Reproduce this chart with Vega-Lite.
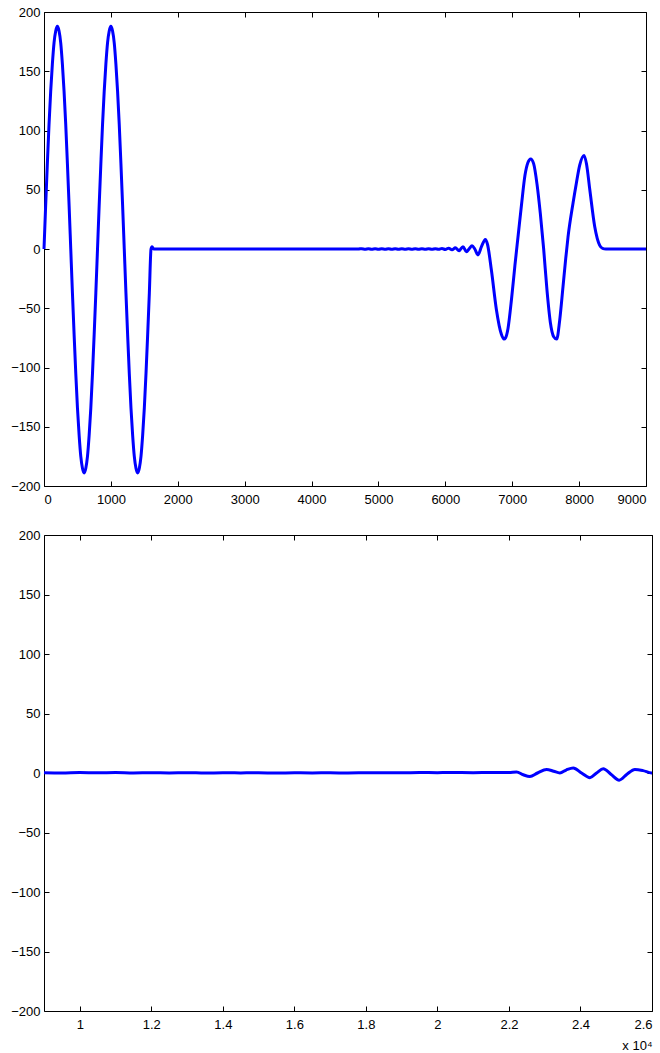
{
  "$schema": "https://vega.github.io/schema/vega-lite/v6.json",
  "background": "white",
  "padding": {"left": 10, "top": 5, "right": 0, "bottom": 0},
  "bounds": "flush",
  "spacing": 49,
  "config": {
    "view": {"stroke": "#000", "strokeWidth": 1},
    "axis": {
      "grid": false, "domain": false, "tickColor": "#000", "tickSize": -5, "tickWidth": 1,
      "labelFont": "Liberation Sans", "labelFontSize": 13, "labelColor": "#000",
      "titleFont": "Liberation Sans", "titleFontSize": 13, "titleFontWeight": "normal", "titleColor": "#000"
    },
    "axisX": {"labelPadding": 12},
    "axisY": {"labelPadding": 9}
  },
  "datasets": {
    "top": [
      {"t": 0, "v": 0}, {"t": 25, "v": 37}, {"t": 50, "v": 72}, {"t": 75, "v": 105}, {"t": 100, "v": 133}, {"t": 125, "v": 156}, {"t": 150, "v": 174}, {"t": 175, "v": 184}, {"t": 200, "v": 188},
      {"t": 225, "v": 184}, {"t": 250, "v": 174}, {"t": 275, "v": 156}, {"t": 300, "v": 133}, {"t": 325, "v": 105}, {"t": 350, "v": 72}, {"t": 375, "v": 37}, {"t": 400, "v": 0},
      {"t": 425, "v": -37}, {"t": 450, "v": -72}, {"t": 475, "v": -105}, {"t": 500, "v": -134}, {"t": 525, "v": -157}, {"t": 550, "v": -175}, {"t": 575, "v": -185}, {"t": 600, "v": -189},
      {"t": 625, "v": -185}, {"t": 650, "v": -175}, {"t": 675, "v": -157}, {"t": 700, "v": -134}, {"t": 725, "v": -105}, {"t": 750, "v": -72}, {"t": 775, "v": -37}, {"t": 800, "v": 0},
      {"t": 825, "v": 37}, {"t": 850, "v": 72}, {"t": 875, "v": 105}, {"t": 900, "v": 133}, {"t": 925, "v": 156}, {"t": 950, "v": 174}, {"t": 975, "v": 184}, {"t": 1000, "v": 188},
      {"t": 1025, "v": 184}, {"t": 1050, "v": 174}, {"t": 1075, "v": 156}, {"t": 1100, "v": 133}, {"t": 1125, "v": 105}, {"t": 1150, "v": 72}, {"t": 1175, "v": 37}, {"t": 1200, "v": 0},
      {"t": 1225, "v": -37}, {"t": 1250, "v": -72}, {"t": 1275, "v": -105}, {"t": 1300, "v": -134}, {"t": 1325, "v": -157}, {"t": 1350, "v": -175}, {"t": 1375, "v": -185}, {"t": 1400, "v": -189},
      {"t": 1425, "v": -185}, {"t": 1450, "v": -175}, {"t": 1475, "v": -157}, {"t": 1500, "v": -134}, {"t": 1525, "v": -105}, {"t": 1550, "v": -72}, {"t": 1575, "v": -37}, {"t": 1600, "v": 0},
      {"t": 1615, "v": 2}, {"t": 1640, "v": 0}, {"t": 3000, "v": 0}, {"t": 4700, "v": 0},
      {"t": 4750, "v": 0.3}, {"t": 4800, "v": -0.2}, {"t": 4850, "v": 0.3}, {"t": 4900, "v": -0.3}, {"t": 4950, "v": 0.2}, {"t": 5000, "v": -0.3},
      {"t": 5050, "v": 0.3}, {"t": 5100, "v": -0.2}, {"t": 5150, "v": 0.3}, {"t": 5200, "v": -0.3}, {"t": 5250, "v": 0.3}, {"t": 5300, "v": -0.3},
      {"t": 5350, "v": 0.2}, {"t": 5400, "v": -0.2}, {"t": 5450, "v": 0.2}, {"t": 5500, "v": -0.2}, {"t": 5550, "v": 0.2}, {"t": 5600, "v": -0.2},
      {"t": 5650, "v": 0.2}, {"t": 5700, "v": -0.2}, {"t": 5750, "v": 0.3}, {"t": 5800, "v": -0.3}, {"t": 5850, "v": 0.3}, {"t": 5900, "v": -0.3},
      {"t": 5950, "v": 0.4}, {"t": 6000, "v": -0.4}, {"t": 6050, "v": 0.7}, {"t": 6100, "v": -0.7}, {"t": 6150, "v": 1.0}, {"t": 6205, "v": -1.4},
      {"t": 6264, "v": 2}, {"t": 6314, "v": -2.3}, {"t": 6360, "v": 0.5}, {"t": 6399, "v": 2.8}, {"t": 6440, "v": 0}, {"t": 6488, "v": -5},
      {"t": 6540, "v": 2}, {"t": 6598, "v": 8}, {"t": 6630, "v": 4}, {"t": 6689, "v": -18}, {"t": 6763, "v": -51}, {"t": 6838, "v": -72},
      {"t": 6877, "v": -76}, {"t": 6900, "v": -75}, {"t": 6937, "v": -67}, {"t": 6990, "v": -42}, {"t": 7040, "v": -14}, {"t": 7090, "v": 12},
      {"t": 7140, "v": 38}, {"t": 7190, "v": 62}, {"t": 7235, "v": 73}, {"t": 7276, "v": 76}, {"t": 7320, "v": 72}, {"t": 7370, "v": 55},
      {"t": 7420, "v": 30}, {"t": 7470, "v": 0}, {"t": 7520, "v": -35}, {"t": 7570, "v": -62}, {"t": 7620, "v": -74}, {"t": 7665, "v": -76},
      {"t": 7710, "v": -60}, {"t": 7759, "v": -32}, {"t": 7800, "v": -8}, {"t": 7834, "v": 10}, {"t": 7910, "v": 39}, {"t": 7960, "v": 56},
      {"t": 8010, "v": 71}, {"t": 8073, "v": 79}, {"t": 8110, "v": 72}, {"t": 8160, "v": 50}, {"t": 8233, "v": 19}, {"t": 8308, "v": 3},
      {"t": 8350, "v": 0.5}, {"t": 8400, "v": 0}, {"t": 9000, "v": 0}
    ],
    "bottom": [
      {"t": 9000, "v": 0.3}, {"t": 9500, "v": 0.1}, {"t": 10000, "v": 0.4}, {"t": 10500, "v": 0.2}, {"t": 11000, "v": 0.4}, {"t": 11500, "v": 0.1},
      {"t": 12000, "v": 0.3}, {"t": 12500, "v": 0.1}, {"t": 13000, "v": 0.3}, {"t": 13500, "v": 0.0}, {"t": 14000, "v": 0.2}, {"t": 14500, "v": 0.1},
      {"t": 15000, "v": 0.2}, {"t": 15500, "v": 0.0}, {"t": 16000, "v": 0.2}, {"t": 16500, "v": 0.1}, {"t": 17000, "v": 0.2}, {"t": 17500, "v": 0.0},
      {"t": 18000, "v": 0.2}, {"t": 18500, "v": 0.3}, {"t": 19000, "v": 0.2}, {"t": 19500, "v": 0.4}, {"t": 20000, "v": 0.3}, {"t": 20500, "v": 0.4},
      {"t": 21000, "v": 0.3}, {"t": 21500, "v": 0.4}, {"t": 22000, "v": 0.4}, {"t": 22213, "v": 0.9}, {"t": 22400, "v": -1.5}, {"t": 22585, "v": -3},
      {"t": 22800, "v": 0}, {"t": 23052, "v": 3}, {"t": 23250, "v": 1.5}, {"t": 23425, "v": 0}, {"t": 23600, "v": 2.5}, {"t": 23798, "v": 4.3},
      {"t": 24030, "v": 0}, {"t": 24264, "v": -3.9}, {"t": 24450, "v": 0}, {"t": 24637, "v": 3.6}, {"t": 24850, "v": -1}, {"t": 25083, "v": -6},
      {"t": 25300, "v": -1}, {"t": 25522, "v": 3}, {"t": 25750, "v": 2}, {"t": 25989, "v": 0}, {"t": 26000, "v": 0}
    ]
  },
  "vconcat": [
    {
      "width": 602, "height": 474,
      "data": {"name": "top"},
      "layer": [
        {
          "mark": {"type": "line", "color": "#0000ff", "strokeWidth": 3, "interpolate": "monotone"},
          "encoding": {
            "x": {"field": "t", "type": "quantitative", "scale": {"domain": [0, 9000], "nice": false, "zero": false},
                  "axis": {"orient": "bottom", "title": null, "values": [0, 1000, 2000, 3000, 4000, 5000, 6000, 7000, 8000, 9000], "format": "d"}},
            "y": {"field": "v", "type": "quantitative", "scale": {"domain": [-200, 200], "nice": false},
                  "axis": {"orient": "left", "title": null, "values": [-200, -150, -100, -50, 0, 50, 100, 150, 200]}}
          }
        },
        {
          "mark": {"type": "line", "strokeOpacity": 0},
          "encoding": {
            "x": {"field": "t", "type": "quantitative", "scale": {"domain": [0, 9000], "nice": false, "zero": false},
                  "axis": {"orient": "top", "title": null, "labels": false, "values": [0, 1000, 2000, 3000, 4000, 5000, 6000, 7000, 8000, 9000]}},
            "y": {"field": "v", "type": "quantitative", "scale": {"domain": [-200, 200], "nice": false},
                  "axis": {"orient": "right", "title": null, "labels": false, "values": [-200, -150, -100, -50, 0, 50, 100, 150, 200]}}
          }
        }
      ],
      "resolve": {"axis": {"x": "independent", "y": "independent"}}
    },
    {
      "width": 608, "height": 476,
      "data": {"name": "bottom"},
      "layer": [
        {
          "mark": {"type": "line", "color": "#0000ff", "strokeWidth": 3, "interpolate": "monotone"},
          "encoding": {
            "x": {"field": "t", "type": "quantitative", "scale": {"domain": [9000, 26000], "nice": false, "zero": false},
                  "axis": {"orient": "bottom", "title": "x 10⁴", "titleAnchor": "end", "titleAlign": "right", "titlePadding": 8,
                           "values": [10000, 12000, 14000, 16000, 18000, 20000, 22000, 24000, 26000],
                           "labelExpr": "format(datum.value / 10000, '.2~f')"}},
            "y": {"field": "v", "type": "quantitative", "scale": {"domain": [-200, 200], "nice": false},
                  "axis": {"orient": "left", "title": null, "values": [-200, -150, -100, -50, 0, 50, 100, 150, 200]}}
          }
        },
        {
          "mark": {"type": "line", "strokeOpacity": 0},
          "encoding": {
            "x": {"field": "t", "type": "quantitative", "scale": {"domain": [9000, 26000], "nice": false, "zero": false},
                  "axis": {"orient": "top", "title": null, "labels": false, "values": [10000, 12000, 14000, 16000, 18000, 20000, 22000, 24000, 26000]}},
            "y": {"field": "v", "type": "quantitative", "scale": {"domain": [-200, 200], "nice": false},
                  "axis": {"orient": "right", "title": null, "labels": false, "values": [-200, -150, -100, -50, 0, 50, 100, 150, 200]}}
          }
        }
      ],
      "resolve": {"axis": {"x": "independent", "y": "independent"}}
    }
  ]
}
